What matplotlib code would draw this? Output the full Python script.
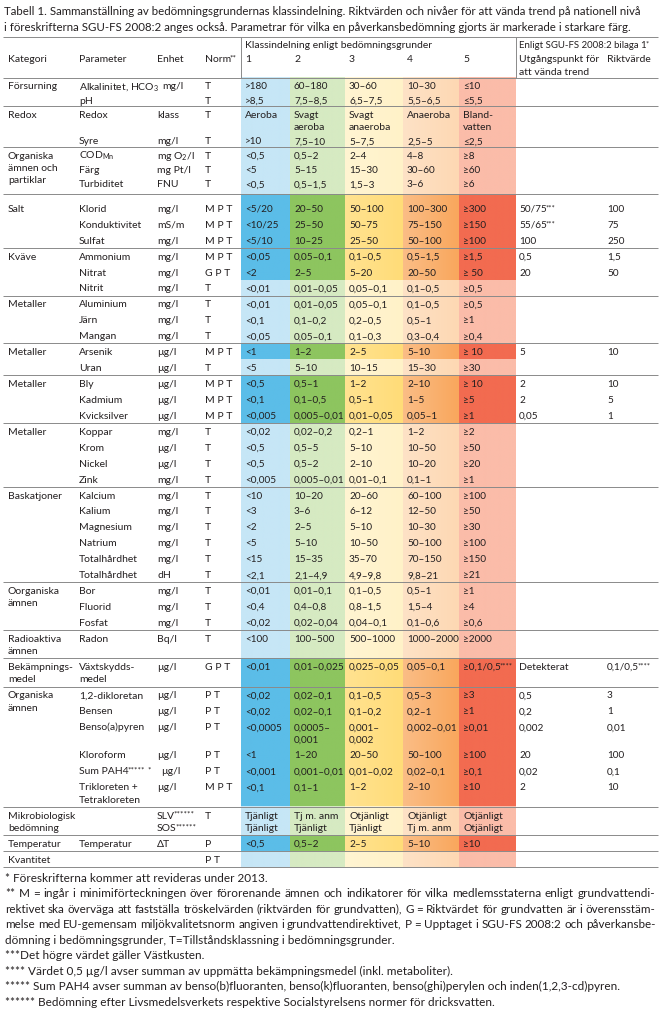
import re
import numpy as np
import matplotlib
matplotlib.use("Agg")
import matplotlib.pyplot as plt
from matplotlib.colors import to_rgb

plt.rcParams['font.family'] = ['Lato', 'DejaVu Sans']
plt.rcParams['mathtext.fontset'] = 'custom'
plt.rcParams['mathtext.rm'] = 'Lato'
plt.rcParams['mathtext.it'] = 'Lato:italic'
plt.rcParams['mathtext.bf'] = 'Lato:bold'

# ---------------- data ----------------
title_lines = [
    "Tabell 1. Sammanställning av bedömningsgrundernas klassindelning. Riktvärden och nivåer för att vända trend på nationell nivå",
    "i föreskrifterna SGU-FS 2008:2 anges också. Parametrar för vilka en påverkansbedömning gjorts är markerade i starkare färg.",
]
header_cols = ["Kategori", "Parameter", "Enhet", "Norm**", "1", "2", "3", "4", "5"]
header_class = "Klassindelning enligt bedömningsgrunder"
header_sgu = "Enligt SGU-FS 2008:2 bilaga 1*"
header_trend = "Utgångspunkt för\natt vända trend"
header_rikt = "Riktvärde"

kategori = ["Försurning", "", "Redox", "", "Organiska\nämnen och\npartiklar", "", "",
            "Salt", "", "", "Kväve", "", "", "Metaller", "", "", "Metaller", "",
            "Metaller", "", "", "Metaller", "", "", "", "Baskatjoner", "", "", "", "", "",
            "Oorganiska\nämnen", "", "", "Radioaktiva\nämnen", "Bekämpnings-\nmedel",
            "Organiska\nämnen", "", "", "", "", "", "Mikrobiologisk\nbedömning",
            "Temperatur", "Kvantitet"]
parameter = ["Alkalinitet, HCO$_3$", "pH", "Redox", "Syre", "COD$_{\\mathrm{Mn}}$", "Färg", "Turbiditet",
             "Klorid", "Konduktivitet", "Sulfat", "Ammonium", "Nitrat", "Nitrit",
             "Aluminium", "Järn", "Mangan", "Arsenik", "Uran", "Bly", "Kadmium", "Kvicksilver",
             "Koppar", "Krom", "Nickel", "Zink", "Kalcium", "Kalium", "Magnesium", "Natrium",
             "Totalhårdhet", "Totalhårdhet", "Bor", "Fluorid", "Fosfat", "Radon",
             "Växtskydds-\nmedel", "1,2-dikloretan", "Bensen", "Benso(a)pyren", "Kloroform",
             "Sum PAH4***** *", "Trikloreten +\nTetrakloreten", "", "Temperatur", ""]
enhet = ["mg/l", "", "klass", "mg/l", "mg O$_2$/l", "mg Pt/l", "FNU",
         "mg/l", "mS/m", "mg/l", "mg/l", "mg/l", "mg/l", "mg/l", "mg/l", "mg/l",
         "µg/l", "µg/l", "µg/l", "µg/l", "µg/l", "mg/l", "µg/l", "µg/l", "mg/l",
         "mg/l", "mg/l", "mg/l", "mg/l", "mg/l", "dH", "mg/l", "mg/l", "mg/l", "Bq/l",
         "µg/l", "µg/l", "µg/l", "µg/l", "µg/l", "µg/l", "µg/l",
         "SLV******\nSOS******", "ΔT", ""]
norm = ["T", "T", "T", "T", "T", "T", "T", "M P T", "M P T", "M P T", "M P T", "G P T", "T",
        "T", "T", "T", "M P T", "T", "M P T", "M P T", "M P T", "T", "T", "T", "T",
        "T", "T", "T", "T", "T", "T", "T", "T", "T", "T", "G P T",
        "P T", "P T", "P T", "P T", "P T", "M P T", "T", "P", "P T"]
klass1 = [">180", ">8,5", "Aeroba", ">10", "<0,5", "<5", "<0,5", "<5/20", "<10/25", "<5/10",
          "<0,05", "<2", "<0,01", "<0,01", "<0,1", "<0,05", "<1", "<5", "<0,5", "<0,1", "<0,005",
          "<0,02", "<0,5", "<0,5", "<0,005", "<10", "<3", "<2", "<5", "<15", "<2,1",
          "<0,01", "<0,4", "<0,02", "<100", "<0,01", "<0,02", "<0,02", "<0,0005", "<1",
          "<0,001", "<0,1", "Tjänligt\nTjänligt", "<0,5", ""]
klass2 = ["60–180", "7,5–8,5", "Svagt\naeroba", "7,5–10", "0,5–2", "5–15", "0,5–1,5", "20–50",
          "25–50", "10–25", "0,05–0,1", "2–5", "0,01–0,05", "0,01–0,05", "0,1–0,2", "0,05–0,1",
          "1–2", "5–10", "0,5–1", "0,1–0,5", "0,005–0,01", "0,02–0,2", "0,5–5", "0,5–2",
          "0,005–0,01", "10–20", "3–6", "2–5", "5–10", "15–35", "2,1–4,9", "0,01–0,1",
          "0,4–0,8", "0,02–0,04", "100–500", "0,01–0,025", "0,02–0,1", "0,02–0,1",
          "0,0005–\n0,001", "1–20", "0,001–0,01", "0,1–1", "Tj m. anm\nTjänligt", "0,5–2", ""]
klass3 = ["30–60", "6,5–7,5", "Svagt\nanaeroba", "5–7,5", "2–4", "15–30", "1,5–3", "50–100",
          "50–75", "25–50", "0,1–0,5", "5–20", "0,05–0,1", "0,05–0,1", "0,2–0,5", "0,1–0,3",
          "2–5", "10–15", "1–2", "0,5–1", "0,01–0,05", "0,2–1", "5–10", "2–10", "0,01–0,1",
          "20–60", "6–12", "5–10", "10–50", "35–70", "4,9–9,8", "0,1–0,5", "0,8–1,5",
          "0,04–0,1", "500–1000", "0,025–0,05", "0,1–0,5", "0,1–0,2", "0,001–\n0,002",
          "20–50", "0,01–0,02", "1–2", "Otjänligt\nTjänligt", "2–5", ""]
klass4 = ["10–30", "5,5–6,5", "Anaeroba", "2,5–5", "4–8", "30–60", "3–6", "100–300", "75–150",
          "50–100", "0,5–1,5", "20–50", "0,1–0,5", "0,1–0,5", "0,5–1", "0,3–0,4", "5–10",
          "15–30", "2–10", "1–5", "0,05–1", "1–2", "10–50", "10–20", "0,1–1", "60–100",
          "12–50", "10–30", "50–100", "70–150", "9,8–21", "0,5–1", "1,5–4", "0,1–0,6",
          "1000–2000", "0,05–0,1", "0,5–3", "0,2–1", "0,002–0,01", "50–100", "0,02–0,1",
          "2–10", "Otjänligt\nTj m. anm", "5–10", ""]
klass5 = ["≤10", "≤5,5", "Bland-\nvatten", "≤2,5", "≥8", "≥60", "≥6", "≥300", "≥150", "≥100",
          "≥1,5", "≥ 50", "≥0,5", "≥0,5", "≥1", "≥0,4", "≥ 10", "≥30", "≥ 10", "≥5", "≥1",
          "≥2", "≥50", "≥20", "≥1", "≥100", "≥50", "≥30", "≥100", "≥150", "≥21", "≥1", "≥4",
          "≥0,6", "≥2000", "≥0,1/0,5****", "≥3", "≥1", "≥0,01", "≥100", "≥0,1", "≥10",
          "Otjänligt\nOtjänligt", "≥10", ""]
trend = ["", "", "", "", "", "", "", "50/75***", "55/65***", "100", "0,5", "20", "",
         "", "", "", "5", "", "2", "2", "0,05", "", "", "", "", "", "", "", "", "", "",
         "", "", "", "", "Detekterat", "0,5", "0,2", "0,002", "20", "0,02", "2", "", "", ""]
riktvarde = ["", "", "", "", "", "", "", "100", "75", "250", "1,5", "50", "",
             "", "", "", "10", "", "10", "5", "1", "", "", "", "", "", "", "", "", "", "",
             "", "", "", "", "0,1/0,5****", "3", "1", "0,01", "100", "0,1", "10", "", "", ""]
# rows marked with stronger colour (påverkansbedömning)
starkare = [0, 0, 0, 0, 0, 0, 0, 1, 1, 1, 1, 1, 0, 0, 0, 0, 1, 0, 1, 1, 1, 0, 0, 0, 0,
            0, 0, 0, 0, 0, 0, 0, 0, 0, 0, 1, 1, 1, 1, 1, 1, 1, 0, 1, 0]
footnotes = [
    "* Föreskrifterna kommer att revideras under 2013.",
    "** M = ingår i minimiförteckningen över förorenande ämnen och indikatorer för vilka medlemsstaterna enligt grundvattendi-",
    "rektivet ska överväga att fastställa tröskelvärden (riktvärden för grundvatten), G = Riktvärdet för grundvatten är i överensstäm-",
    "melse med EU-gemensam miljökvalitetsnorm angiven i grundvattendirektivet, P = Upptaget i SGU-FS 2008:2 och påverkansbe-",
    "dömning i bedömningsgrunder, T=Tillståndsklassning i bedömningsgrunder.",
    "***Det högre värdet gäller Västkusten.",
    "**** Värdet 0,5 µg/l avser summan av uppmätta bekämpningsmedel (inkl. metaboliter).",
    "***** Sum PAH4 avser summan av benso(b)fluoranten, benso(k)fluoranten, benso(ghi)perylen och inden(1,2,3-cd)pyren.",
    "****** Bedömning efter Livsmedelsverkets respektive Socialstyrelsens normer för dricksvatten.",
]
justified = [False, True, True, True, False, False, False, False, False]

# ---------------- style / layout ----------------
W, H = 661, 1010
TXT = "#231f20"
LINEC = "#8a8a8a"
STRONG = ["#5bbde8", "#8dc55f", "#ffdc78", "#f9a75d", "#f26b50"]
LIGHT = ["#c6e6f6", "#d6eac2", "#fff2c8", "#fdd8b3", "#fbbca9"]
FADE = [0.0, 0.0, 0.18, 0.25, 0.0]   # lighter left edge inside a column
BODY = 7.5      # label columns
VAL = 7.2       # numeric class columns
ROW_U, ROW, LINE = 14.3, 15.93, 12.3
X_KAT, X_PAR, X_ENH, X_NORM = 8, 79, 157, 205
COLB = [241, 290, 345, 403, 459, 516]
X_TREND, X_RIKT = 519, 607
Y_HEAD_TOP, Y_HEAD_BOT = 37, 77.5
L0, L1 = 3, 658
N_UPPER = kategori.index("Salt")      # compact upper block
GAP_UPPER, PAD_SALT = 4.4, 5.8

fig = plt.figure(figsize=(W / 100, H / 100), dpi=100)
ax = fig.add_axes([0, 0, 1, 1])
ax.axis("off")
renderer = fig.canvas.get_renderer()
ax.set_xlim(0, W)
ax.set_ylim(H, 0)


def _w(s, size):
    t = ax.text(0, 0, s, fontsize=size, va="baseline")
    w = t.get_window_extent(renderer).width
    t.remove()
    return w


def width_of(s, size):
    if s.strip() == "":
        return _w("a" + s + "a", size) - _w("aa", size)
    return _w(s, size)


def rich(x, yb, s, size):
    """draw a line; runs of '*' are set smaller and raised"""
    for p in re.split(r"(\*+)", s):
        if not p:
            continue
        if p.startswith("*"):
            ss = size * 0.78
            ax.text(x, yb - 1.6, p, fontsize=ss, color=TXT, va="baseline")
            x += width_of(p, ss)
        else:
            if p.strip():
                ax.text(x, yb, p, fontsize=size, color=TXT, va="baseline")
                x += width_of(p, size) - 1.2
            else:
                x += width_of(p, size)
    return x


def put(x, y, s, size=BODY, pitch=LINE):
    for i, line in enumerate(s.split("\n")):
        if line:
            rich(x, y + i * pitch + 3.4, line, size)


def hline(y, x0=L0, x1=L1):
    ax.plot([x0, x1], [y, y], color=LINEC, lw=0.7, solid_capstyle="butt", zorder=5)


def cell(x0, x1, y0, y1, color, fade):
    c = np.array(to_rgb(color))
    left = c + (1 - c) * fade
    ramp = np.linspace(0, 1, 32)[:, None]
    img = (left[None, :] * (1 - ramp) + c[None, :] * ramp)[None, :, :]
    ax.imshow(img, extent=[x0, x1, y1, y0], aspect="auto", interpolation="bilinear", zorder=1)


# title (scaled to the reference width)
tsize = 8 * 644 / width_of(title_lines[0], 8)
for j, s in enumerate(title_lines):
    ax.text(4, 11 + 16.5 * j + 3.6, s, fontsize=tsize, color=TXT, va="baseline")

# header
hline(Y_HEAD_TOP)
hline(Y_HEAD_BOT)
for xv in (COLB[0], COLB[-1]):
    ax.plot([xv, xv], [Y_HEAD_TOP, Y_HEAD_BOT], color=LINEC, lw=0.7, zorder=5)
put(COLB[0] + 4, 45, header_class)
sgu_size = min(BODY, BODY * 132 / width_of(header_sgu, BODY))
put(X_TREND, 45, header_sgu, size=sgu_size)
hx = [X_KAT, X_PAR, X_ENH, X_NORM] + [c + 4 for c in COLB[:5]]
for xv, s in zip(hx, header_cols):
    put(xv, 59, s)
put(X_TREND, 59, header_trend)
put(X_RIKT, 59, header_rikt)

# row heights
n = len(parameter)
nlines = []
for i in range(n):
    cells = [parameter[i], enhet[i], klass1[i], klass2[i], klass3[i], klass4[i], klass5[i],
             trend[i], riktvarde[i]]
    nlines.append(max(c.count("\n") + 1 for c in cells))
starts = [i for i in range(n) if kategori[i]] + [n]
for g in range(len(starts) - 1):
    a, b = starts[g], starts[g + 1]
    need = kategori[a].count("\n") + 1
    have = sum(nlines[a:b])
    if need > have:
        nlines[b - 1] += need - have

tops, heights, centers = [], [], []
y = Y_HEAD_BOT
for i in range(n):
    base = ROW_U if i < N_UPPER else ROW
    h = base + (nlines[i] - 1) * LINE
    pad_top = PAD_SALT if i == N_UPPER else 0.0
    pad_bot = GAP_UPPER if i == N_UPPER - 1 else 0.0
    tops.append(y)
    heights.append(h + pad_top + pad_bot)
    centers.append(y + pad_top + 8.3)
    y += h + pad_top + pad_bot
bottom = y


def is_text(s):
    return any(ch.isalpha() for ch in s)


klass = [klass1, klass2, klass3, klass4, klass5]
for i in range(n):
    top, h, yc = tops[i], heights[i], centers[i]
    pal = STRONG if starkare[i] else LIGHT
    for k in range(5):
        cell(COLB[k], COLB[k + 1], top, top + h, pal[k], FADE[k])
    if kategori[i]:
        put(X_KAT, yc, kategori[i])
    put(X_PAR, yc, parameter[i])
    xu = X_ENH
    if parameter[i] and "\n" not in parameter[i]:
        xu = max(X_ENH, X_PAR + width_of(parameter[i], BODY) + 3)
    put(xu, yc, enhet[i])
    put(X_NORM, yc, norm[i])
    for k in range(5):
        s = klass[k][i]
        put(COLB[k] + 4, yc, s, size=BODY if is_text(s) else VAL)
    put(X_TREND, yc, trend[i], size=BODY if is_text(trend[i]) else VAL)
    put(X_RIKT, yc, riktvarde[i], size=VAL)

for g in range(1, len(starts)):
    b = starts[g]
    yl = tops[b] if b < n else bottom
    hline(yl)

# footnotes
targets = {0: 244, 4: 389, 5: 209, 6: 457, 7: 583, 8: 489}
ratios = sorted(tv / width_of(footnotes[j], 8) for j, tv in targets.items())
fsize = 8 * (ratios[2] + ratios[3]) / 2
for j, s in enumerate(footnotes):
    yb = 878 + j * 15.55 + 3.6
    if justified[j]:
        words = s.split(" ")
        size = fsize
        ws = [width_of(w, size) for w in words]
        space = width_of(" ", size)
        nat = sum(ws) + space * (len(words) - 1)
        target = 650.0
        if nat > target:
            size = size * target / nat
            ws = [w * target / nat for w in ws]
        gap = (target - sum(ws)) / (len(words) - 1)
        x = 5.0
        for w, wd in zip(words, ws):
            ax.text(x, yb, w, fontsize=size, color=TXT, va="baseline")
            x += wd + gap
    else:
        ax.text(5, yb, s, fontsize=fsize, color=TXT, va="baseline")

ax.set_xlim(0, W)
ax.set_ylim(H, 0)
fig.savefig("out.png", dpi=100)
